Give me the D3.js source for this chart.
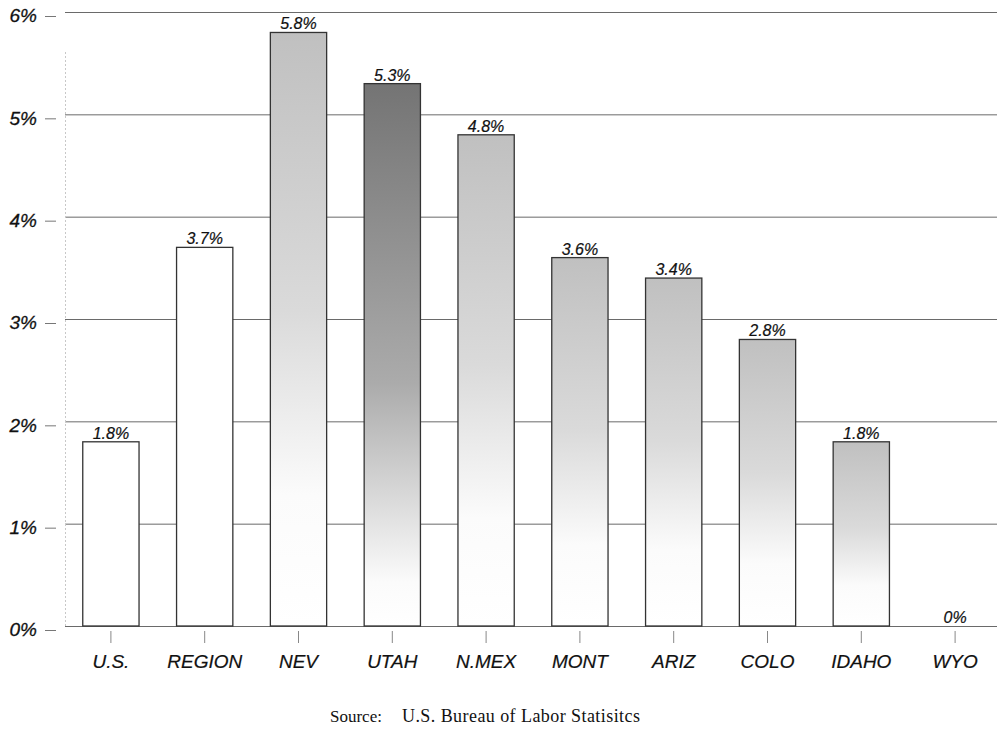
<!DOCTYPE html>
<html>
  <head>
    <meta charset="utf-8">
    <title>Job growth by state</title>
    <script src="https://d3js.org/d3.v7.min.js"></script>
    <style>
      body { margin: 0; background: #fff; }
      svg { display: block; }
    </style>
  </head>
  <body>
    <svg id="chart"></svg>
    <script>
// data
var categories = ["U.S.", "REGION", "NEV", "UTAH", "N.MEX", "MONT", "ARIZ", "COLO", "IDAHO", "WYO"];
var values = [1.8, 3.7, 5.8, 5.3, 4.8, 3.6, 3.4, 2.8, 1.8, 0];
var yTicks = [0, 1, 2, 3, 4, 5, 6];

var width = 997, height = 730;

var svg = d3.select("#chart")
  .attr("width", width)
  .attr("height", height);

var x = d3.scaleBand()
  .domain(categories)
  .range([64, 1002])
  .paddingInner(0.4)
  .paddingOuter(0.2);

var y = d3.scaleLinear()
  .domain([0, 6])
  .range([626, 12]);

// shading of each bar: top colour and where it has faded to white
function shade(c) {
  if (c === "U.S." || c === "REGION") return null;
  if (c === "UTAH") return { top: "#747474", mid: "#ababab", white: 0.92 };
  return { top: "#c0c0c0", mid: "#dadada", white: 0.78 };
}

var defs = svg.append("defs");
categories.forEach(function(c, i) {
  var s = shade(c);
  if (!s) return;
  var g = defs.append("linearGradient")
    .attr("id", "grad" + i)
    .attr("x1", 0).attr("y1", 0).attr("x2", 0).attr("y2", 1);
  g.append("stop").attr("offset", 0).attr("stop-color", s.top);
  g.append("stop").attr("offset", s.white * 0.6).attr("stop-color", s.mid);
  g.append("stop").attr("offset", s.white).attr("stop-color", "#fbfbfb");
  g.append("stop").attr("offset", 1).attr("stop-color", "#ffffff");
});

// grid lines
svg.append("g")
  .selectAll("line")
  .data(yTicks)
  .enter().append("line")
  .attr("x1", 65)
  .attr("x2", width)
  .attr("y1", function(d) { return y(d) + 0.5; })
  .attr("y2", function(d) { return y(d) + 0.5; })
  .attr("stroke", "#6a6a6a")
  .attr("stroke-width", 1);

// y axis line (faint, dotted)
svg.append("line")
  .attr("x1", 65.5).attr("x2", 65.5)
  .attr("y1", y(6) + 40).attr("y2", y(0))
  .attr("stroke", "#c8c8c8")
  .attr("stroke-dasharray", "2,2");

// y tick labels (sit a little below their grid lines, as in the original)
var yAxis = svg.append("g")
  .attr("transform", "translate(56,4)")
  .call(d3.axisLeft(y).tickValues(yTicks).tickSize(11).tickPadding(8)
    .tickFormat(function(d) { return d + "%"; }));
yAxis.select(".domain").remove();
yAxis.selectAll(".tick line").attr("stroke", "#777");
yAxis.selectAll("text")
  .attr("font-family", "Liberation Sans, Arial, sans-serif")
  .attr("font-style", "italic")
  .attr("font-size", 19)
  .attr("fill", "#111")
  .attr("stroke", "#111")
  .attr("stroke-width", 0.3)
  .attr("dy", "0.3em");

// x axis labels and ticks
var xAxis = svg.append("g")
  .attr("transform", "translate(0," + (y(0) + 5) + ")")
  .call(d3.axisBottom(x).tickSize(12).tickPadding(12));
xAxis.select(".domain").remove();
xAxis.selectAll(".tick line").attr("stroke", "#888");
xAxis.selectAll("text")
  .attr("font-family", "Liberation Sans, Arial, sans-serif")
  .attr("font-style", "italic")
  .attr("font-size", 19)
  .attr("fill", "#111")
  .attr("stroke", "#111")
  .attr("stroke-width", 0.2);

// bars
svg.append("g")
  .selectAll("rect")
  .data(categories)
  .enter().append("rect")
  .attr("x", function(d) { return x(d); })
  .attr("y", function(d, i) { return y(values[i]); })
  .attr("width", x.bandwidth())
  .attr("height", function(d, i) { return y(0) - y(values[i]); })
  .attr("fill", function(d, i) { return shade(d) ? "url(#grad" + i + ")" : "#fff"; })
  .attr("stroke", "#333")
  .attr("stroke-width", 1.3);

// value labels
svg.append("g")
  .selectAll("text")
  .data(categories)
  .enter().append("text")
  .attr("x", function(d) { return x(d) + x.bandwidth() / 2; })
  .attr("y", function(d, i) { return y(values[i]) - 3; })
  .attr("text-anchor", "middle")
  .attr("font-family", "Liberation Sans, Arial, sans-serif")
  .attr("font-style", "italic")
  .attr("font-size", 16)
  .attr("fill", "#111")
  .attr("stroke", "#111")
  .attr("stroke-width", 0.2)
  .text(function(d, i) { return values[i] + "%"; });

// source note
var source = svg.append("text")
  .attr("y", 722)
  .attr("font-family", "Liberation Serif, Times New Roman, serif")
  .attr("font-size", 17)
  .attr("fill", "#111");
source.append("tspan")
  .attr("x", 330)
  .text("Source:");
source.append("tspan")
  .attr("x", 402)
  .attr("font-size", 18)
  .attr("textLength", 238)
  .attr("lengthAdjust", "spacing")
  .text("U.S. Bureau of Labor Statisitcs");
    </script>
  </body>
</html>
